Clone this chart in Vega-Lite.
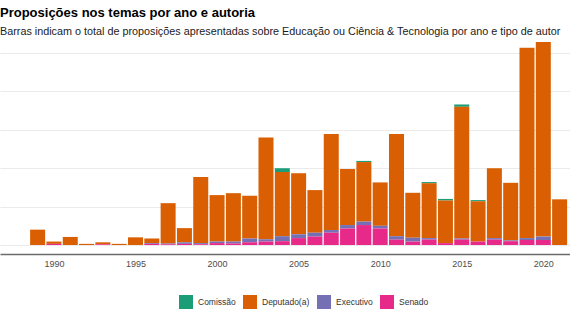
{
  "$schema": "https://vega.github.io/schema/vega-lite/v6.json",
  "width": 570,
  "height": 214,
  "autosize": {"type": "none"},
  "padding": {"left": 0, "top": 40, "right": 0, "bottom": 67},
  "background": "white",
  "title": {
    "text": "Proposições nos temas por ano e autoria",
    "subtitle": "Barras indicam o total de proposições apresentadas sobre Educação ou Ciência & Tecnologia por ano e tipo de autor",
    "anchor": "start",
    "frame": "group",
    "font": "Liberation Sans",
    "fontSize": 13,
    "fontWeight": "bold",
    "color": "#000000",
    "subtitleFont": "Liberation Sans",
    "subtitleFontSize": 10.8,
    "subtitleColor": "#1a1a1a",
    "subtitlePadding": 6.5,
    "offset": 3
  },
  "data": {
    "values": [
      {"year": 1989, "autor": "Deputado(a)", "n": 40},
      {"year": 1990, "autor": "Deputado(a)", "n": 6},
      {"year": 1990, "autor": "Senado", "n": 3},
      {"year": 1991, "autor": "Deputado(a)", "n": 21},
      {"year": 1992, "autor": "Deputado(a)", "n": 3},
      {"year": 1993, "autor": "Deputado(a)", "n": 5},
      {"year": 1993, "autor": "Senado", "n": 2},
      {"year": 1994, "autor": "Deputado(a)", "n": 3},
      {"year": 1995, "autor": "Deputado(a)", "n": 20},
      {"year": 1996, "autor": "Deputado(a)", "n": 12},
      {"year": 1996, "autor": "Executivo", "n": 2},
      {"year": 1996, "autor": "Senado", "n": 3},
      {"year": 1997, "autor": "Deputado(a)", "n": 105},
      {"year": 1997, "autor": "Executivo", "n": 2},
      {"year": 1997, "autor": "Senado", "n": 2},
      {"year": 1998, "autor": "Deputado(a)", "n": 37},
      {"year": 1998, "autor": "Executivo", "n": 4},
      {"year": 1998, "autor": "Senado", "n": 3},
      {"year": 1999, "autor": "Deputado(a)", "n": 172},
      {"year": 1999, "autor": "Executivo", "n": 3},
      {"year": 1999, "autor": "Senado", "n": 2},
      {"year": 2000, "autor": "Deputado(a)", "n": 121},
      {"year": 2000, "autor": "Executivo", "n": 4},
      {"year": 2000, "autor": "Senado", "n": 5},
      {"year": 2001, "autor": "Deputado(a)", "n": 126},
      {"year": 2001, "autor": "Executivo", "n": 5},
      {"year": 2001, "autor": "Senado", "n": 4},
      {"year": 2002, "autor": "Deputado(a)", "n": 111},
      {"year": 2002, "autor": "Executivo", "n": 10},
      {"year": 2002, "autor": "Senado", "n": 7},
      {"year": 2003, "autor": "Deputado(a)", "n": 265},
      {"year": 2003, "autor": "Executivo", "n": 6},
      {"year": 2003, "autor": "Senado", "n": 9},
      {"year": 2004, "autor": "Comissão", "n": 10},
      {"year": 2004, "autor": "Deputado(a)", "n": 167},
      {"year": 2004, "autor": "Executivo", "n": 13},
      {"year": 2004, "autor": "Senado", "n": 10},
      {"year": 2005, "autor": "Deputado(a)", "n": 159},
      {"year": 2005, "autor": "Executivo", "n": 10},
      {"year": 2005, "autor": "Senado", "n": 18},
      {"year": 2006, "autor": "Deputado(a)", "n": 111},
      {"year": 2006, "autor": "Executivo", "n": 10},
      {"year": 2006, "autor": "Senado", "n": 22},
      {"year": 2007, "autor": "Deputado(a)", "n": 250},
      {"year": 2007, "autor": "Executivo", "n": 7},
      {"year": 2007, "autor": "Senado", "n": 32},
      {"year": 2008, "autor": "Deputado(a)", "n": 146},
      {"year": 2008, "autor": "Executivo", "n": 9},
      {"year": 2008, "autor": "Senado", "n": 43},
      {"year": 2009, "autor": "Comissão", "n": 3},
      {"year": 2009, "autor": "Deputado(a)", "n": 155},
      {"year": 2009, "autor": "Executivo", "n": 9},
      {"year": 2009, "autor": "Senado", "n": 52},
      {"year": 2010, "autor": "Deputado(a)", "n": 113},
      {"year": 2010, "autor": "Executivo", "n": 7},
      {"year": 2010, "autor": "Senado", "n": 43},
      {"year": 2011, "autor": "Deputado(a)", "n": 266},
      {"year": 2011, "autor": "Executivo", "n": 9},
      {"year": 2011, "autor": "Senado", "n": 14},
      {"year": 2012, "autor": "Deputado(a)", "n": 117},
      {"year": 2012, "autor": "Executivo", "n": 10},
      {"year": 2012, "autor": "Senado", "n": 9},
      {"year": 2013, "autor": "Comissão", "n": 3},
      {"year": 2013, "autor": "Deputado(a)", "n": 143},
      {"year": 2013, "autor": "Executivo", "n": 4},
      {"year": 2013, "autor": "Senado", "n": 14},
      {"year": 2014, "autor": "Comissão", "n": 4},
      {"year": 2014, "autor": "Deputado(a)", "n": 111},
      {"year": 2014, "autor": "Senado", "n": 5},
      {"year": 2015, "autor": "Comissão", "n": 6},
      {"year": 2015, "autor": "Deputado(a)", "n": 343},
      {"year": 2015, "autor": "Executivo", "n": 3},
      {"year": 2015, "autor": "Senado", "n": 14},
      {"year": 2016, "autor": "Comissão", "n": 3},
      {"year": 2016, "autor": "Deputado(a)", "n": 105},
      {"year": 2016, "autor": "Senado", "n": 9},
      {"year": 2017, "autor": "Deputado(a)", "n": 182},
      {"year": 2017, "autor": "Executivo", "n": 4},
      {"year": 2017, "autor": "Senado", "n": 14},
      {"year": 2018, "autor": "Deputado(a)", "n": 150},
      {"year": 2018, "autor": "Executivo", "n": 2},
      {"year": 2018, "autor": "Senado", "n": 10},
      {"year": 2019, "autor": "Deputado(a)", "n": 496},
      {"year": 2019, "autor": "Executivo", "n": 5},
      {"year": 2019, "autor": "Senado", "n": 13},
      {"year": 2020, "autor": "Deputado(a)", "n": 507},
      {"year": 2020, "autor": "Executivo", "n": 9},
      {"year": 2020, "autor": "Senado", "n": 13},
      {"year": 2021, "autor": "Deputado(a)", "n": 119}
    ]
  },
  "mark": {"type": "bar", "width": 15, "clip": true},
  "encoding": {
    "x": {
      "field": "year",
      "type": "quantitative",
      "scale": {"domain": [1987, 2021.33], "nice": false, "zero": false},
      "axis": {
        "title": null,
        "values": [1990, 1995, 2000, 2005, 2010, 2015, 2020],
        "format": "d",
        "grid": false,
        "ticks": false,
        "domain": true,
        "domainColor": "#6b6b6b",
        "domainWidth": 1.5,
        "labelFont": "Liberation Sans",
        "labelFontSize": 9,
        "labelColor": "#4d4d4d",
        "labelPadding": 5
      }
    },
    "y": {
      "field": "n",
      "type": "quantitative",
      "stack": "zero",
      "scale": {"domain": [-23.4, 533.9], "nice": false, "zero": false},
      "axis": {
        "title": null,
        "values": [0, 100, 200, 300, 400, 500],
        "labels": false,
        "ticks": false,
        "domain": false,
        "grid": true,
        "gridColor": "#ebebeb",
        "gridWidth": 1
      }
    },
    "color": {
      "field": "autor",
      "type": "nominal",
      "scale": {
        "domain": ["Comissão", "Deputado(a)", "Executivo", "Senado"],
        "range": ["#1B9E77", "#D95F02", "#7570B3", "#E7298A"]
      },
      "legend": {
        "title": null,
        "orient": "none",
        "direction": "horizontal",
        "legendX": 179,
        "legendY": 255,
        "symbolType": "square",
        "symbolSize": 196,
        "symbolStrokeWidth": 0,
        "symbolOpacity": 1,
        "labelFont": "Liberation Sans",
        "labelFontSize": 8.5,
        "labelColor": "#333333",
        "labelOffset": 5,
        "columnPadding": 7
      }
    },
    "order": {"field": "autor", "sort": "descending"}
  },
  "config": {
    "view": {"stroke": null},
    "axis": {"gridColor": "#ebebeb"}
  }
}
